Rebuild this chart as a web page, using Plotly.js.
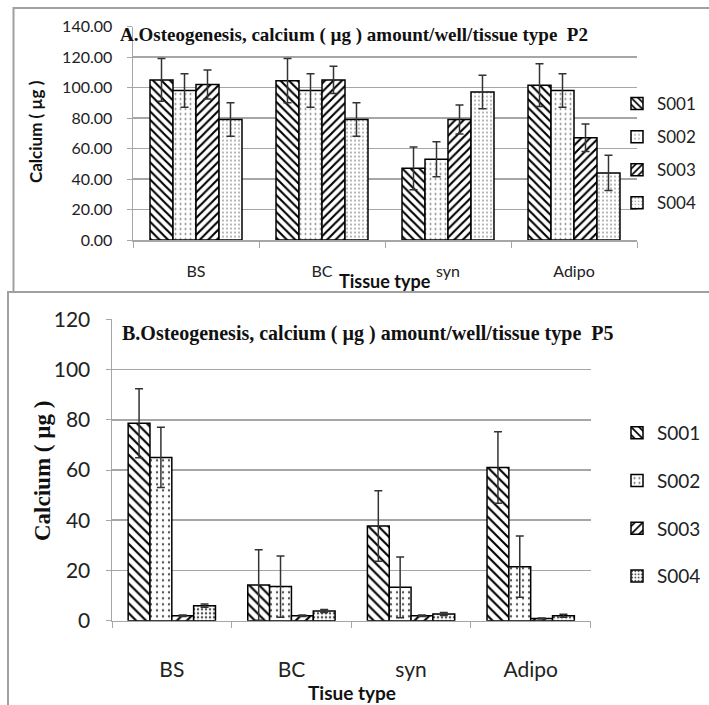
<!DOCTYPE html>
<html>
<head>
<meta charset="utf-8">
<script src="https://cdn.plot.ly/plotly-3.0.1.min.js"></script>
<style>html,body{margin:0;padding:0;background:#fff;}#chart{width:709px;height:705px;}</style>
</head>
<body>
<div id="chart"></div>
<script>
// Data
var categories = ["BS", "BC", "syn", "Adipo"];
var seriesNames = ["S001", "S002", "S003", "S004"];

// Panel A (P2)
var s001_p2 = [105, 104.5, 47, 101.5];
var s001_p2_err = [14, 14.5, 14, 14];
var s002_p2 = [98, 98, 53, 98];
var s002_p2_err = [11, 11, 11.5, 11];
var s003_p2 = [102, 105, 79, 67];
var s003_p2_err = [9.5, 9, 9.5, 9];
var s004_p2 = [79, 79, 97, 44];
var s004_p2_err = [11, 11, 11, 11.5];

// Panel B (P5)
var s001_p5 = [78.6, 14.2, 37.7, 61];
var s001_p5_err = [13.7, 14, 14, 14.2];
var s002_p5 = [65, 13.6, 13.3, 21.5];
var s002_p5_err = [12, 12.2, 12.1, 12.2];
var s003_p5 = [2, 2, 2, 0.9];
var s003_p5_err = [0.3, 0.3, 0.3, 0.2];
var s004_p5 = [6, 3.9, 2.7, 2];
var s004_p5_err = [0.6, 0.6, 0.6, 0.6];

var W = 709, H = 705;
function px(x){ return x / W; }
function py(y){ return 1 - y / H; }

var patternsTop = [
  {shape: "\\", size: 6, solidity: 0.35, fgcolor: "#000", bgcolor: "#fff"},
  {shape: ".", size: 5, solidity: 0.12, fgcolor: "#777", bgcolor: "#fff"},
  {shape: "/", size: 6, solidity: 0.35, fgcolor: "#000", bgcolor: "#fff"},
  {shape: ".", size: 4, solidity: 0.15, fgcolor: "#777", bgcolor: "#fff"}
];
var patternsBot = [
  {shape: "\\", size: 7, solidity: 0.3, fgcolor: "#000", bgcolor: "#fff"},
  {shape: ".", size: 6, solidity: 0.12, fgcolor: "#555", bgcolor: "#fff"},
  {shape: "/", size: 7, solidity: 0.3, fgcolor: "#000", bgcolor: "#fff"},
  {shape: ".", size: 4, solidity: 0.3, fgcolor: "#555", bgcolor: "#fff"}
];

var topVals = [s001_p2, s002_p2, s003_p2, s004_p2];
var topErrs = [s001_p2_err, s002_p2_err, s003_p2_err, s004_p2_err];
var botVals = [s001_p5, s002_p5, s003_p5, s004_p5];
var botErrs = [s001_p5_err, s002_p5_err, s003_p5_err, s004_p5_err];

var traces = [];
for (var i = 0; i < 4; i++) {
  traces.push({
    type: "bar", name: seriesNames[i], x: categories, y: topVals[i],
    xaxis: "x", yaxis: "y", legend: "legend", legendgroup: "a" + i,
    marker: {color: "#fff", pattern: patternsTop[i], line: {color: "#000", width: 1.5}},
    error_y: {type: "data", array: topErrs[i], visible: true, color: "#333", thickness: 1.5, width: 4}
  });
}
for (var j = 0; j < 4; j++) {
  traces.push({
    type: "bar", name: seriesNames[j], x: categories, y: botVals[j],
    xaxis: "x2", yaxis: "y2", legend: "legend2", legendgroup: "b" + j,
    marker: {color: "#fff", pattern: patternsBot[j], line: {color: "#000", width: 1.5}},
    error_y: {type: "data", array: botErrs[j], visible: true, color: "#333", thickness: 1.5, width: 4}
  });
}

var gridC = "#a6a6a6";
var SANS = "Lato, Open Sans, DejaVu Sans, sans-serif";
var SERIF = "Liberation Serif, Times New Roman, serif";
var topFont = {family: SANS, size: 16, color: "#222"};
var botFont = {family: SANS, size: 21, color: "#222"};

var layout = {
  width: W, height: H,
  margin: {l: 0, r: 0, t: 0, b: 0},
  paper_bgcolor: "#fff", plot_bgcolor: "#fff",
  barmode: "group", bargap: 0.27, bargroupgap: 0,
  showlegend: true,
  xaxis: {
    domain: [px(133), px(637)], anchor: "y", type: "category",
    showline: true, linecolor: gridC, linewidth: 1.5,
    ticks: "outside", tickson: "boundaries", ticklen: 6, tickcolor: gridC,
    tickfont: topFont, ticklabelstandoff: 16, showgrid: false
  },
  yaxis: {
    domain: [py(240), py(26.5)], anchor: "x", range: [0, 140], dtick: 20,
    tickformat: ".2f", showline: true, linecolor: gridC, linewidth: 1.5,
    ticks: "outside", ticklen: 5, tickcolor: gridC, tickfont: topFont,
    ticklabelstandoff: 11, gridcolor: gridC, gridwidth: 1.5, zeroline: false
  },
  xaxis2: {
    domain: [px(112), px(590.5)], anchor: "y2", type: "category",
    showline: true, linecolor: gridC, linewidth: 1.5,
    ticks: "outside", tickson: "boundaries", ticklen: 6, tickcolor: gridC,
    tickfont: botFont, ticklabelstandoff: 30, showgrid: false
  },
  yaxis2: {
    domain: [py(620.7), py(319.3)], anchor: "x2", range: [0, 120], dtick: 20,
    showline: true, linecolor: gridC, linewidth: 1.5,
    ticks: "outside", ticklen: 5, tickcolor: gridC, tickfont: botFont,
    ticklabelstandoff: 11, gridcolor: gridC, gridwidth: 1.5, zeroline: false
  },
  legend: {
    x: px(617), xanchor: "left", y: py(86), yanchor: "top",
    traceorder: "grouped", tracegroupgap: 8, font: {family: SANS, size: 17, color: "#222"},
    bgcolor: "rgba(0,0,0,0)", borderwidth: 0
  },
  legend2: {
    x: px(617), xanchor: "left", y: py(414), yanchor: "top",
    traceorder: "grouped", tracegroupgap: 20, font: {family: SANS, size: 19, color: "#222"},
    bgcolor: "rgba(0,0,0,0)", borderwidth: 0
  },
  shapes: [
    {type: "rect", xref: "paper", yref: "paper", x0: px(13.5), x1: px(715), y0: py(292), y1: py(8),
     line: {color: "#a0a0a0", width: 2}, fillcolor: "rgba(0,0,0,0)", layer: "below"},
    {type: "rect", xref: "paper", yref: "paper", x0: px(8), x1: px(715), y0: py(712), y1: py(292),
     line: {color: "#a0a0a0", width: 2}, fillcolor: "rgba(0,0,0,0)", layer: "below"}
  ],
  annotations: [
    {text: "A.Osteogenesis, calcium ( µg ) amount/well/tissue type  P2", xref: "paper", yref: "paper",
     x: px(118), y: py(35), xanchor: "left", yanchor: "middle", showarrow: false,
     font: {family: SERIF, size: 19, color: "#111", weight: "bold"}},
    {text: "B.Osteogenesis, calcium ( µg ) amount/well/tissue type  P5", xref: "paper", yref: "paper",
     x: px(120), y: py(333), xanchor: "left", yanchor: "middle", showarrow: false,
     font: {family: SERIF, size: 20, color: "#111", weight: "bold"}},
    {text: "Calcium ( µg )", xref: "paper", yref: "paper", x: px(35), y: py(132),
     xanchor: "center", yanchor: "middle", textangle: -90, showarrow: false,
     font: {family: SANS, size: 17, color: "#111", weight: "bold"}},
    {text: "Tissue type", xref: "paper", yref: "paper", x: px(385), y: py(281),
     xanchor: "center", yanchor: "middle", showarrow: false,
     font: {family: SANS, size: 18, color: "#111", weight: "bold"}},
    {text: "Calcium ( µg )", xref: "paper", yref: "paper", x: px(42), y: py(471),
     xanchor: "center", yanchor: "middle", textangle: -90, showarrow: false,
     font: {family: SERIF, size: 23, color: "#111", weight: "bold"}},
    {text: "Tisue type", xref: "paper", yref: "paper", x: px(352), y: py(692),
     xanchor: "center", yanchor: "middle", showarrow: false,
     font: {family: SANS, size: 19, color: "#111", weight: "bold"}}
  ]
};

Plotly.newPlot("chart", traces, layout, {displayModeBar: false, staticPlot: true});
</script>
</body>
</html>
